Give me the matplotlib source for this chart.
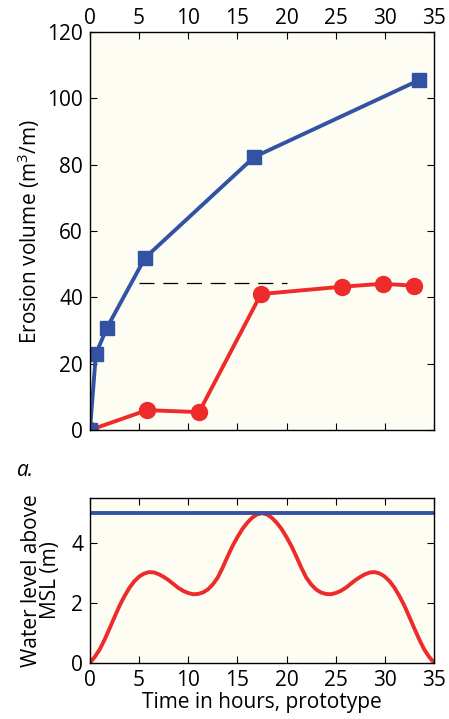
import numpy as np
import matplotlib
matplotlib.use('Agg')
import matplotlib.pyplot as plt

plt.rcParams['font.family'] = ['Open Sans', 'DejaVu Sans']
plt.rcParams['mathtext.fontset'] = 'custom'
plt.rcParams['mathtext.rm'] = 'Open Sans'

# erosion volume, blue squares
t_blue = [0, 0.6, 1.7, 5.6, 16.7, 33.5]
v_blue = [0, 22.9, 30.7, 51.9, 82.3, 105.5]

# erosion volume, red circles
t_red = [0, 5.8, 11.1, 17.4, 25.6, 29.8, 33.0]
v_red = [0, 6.0, 5.4, 41.0, 43.2, 44.1, 43.5]

# dashed reference
t_dash = [5.0, 20.0]
v_dash = [44.2, 44.2]

# water level curves (half-hour steps)
t_wl = np.arange(0, 35.5, 0.5)
wl_red = [0, 0.2, 0.45, 0.78, 1.15, 1.53, 1.9, 2.22, 2.5, 2.72, 2.88, 2.98,
          3.03, 3.02, 2.96, 2.87, 2.76, 2.63, 2.5, 2.4, 2.33, 2.29, 2.3, 2.35,
          2.45, 2.62, 2.85, 3.18, 3.55, 3.9, 4.2, 4.47, 4.68, 4.85, 4.96, 5.0,
          4.96, 4.85, 4.68, 4.47, 4.2, 3.9, 3.55, 3.18, 2.85, 2.62, 2.45, 2.35,
          2.3, 2.29, 2.33, 2.4, 2.5, 2.63, 2.76, 2.87, 2.96, 3.02, 3.03, 2.98,
          2.88, 2.72, 2.5, 2.22, 1.9, 1.53, 1.15, 0.78, 0.45, 0.2, 0]
t_blue_wl = [0, 35]
wl_blue = [5.0, 5.0]

blue = '#3352a3'
red = '#ee2b2b'
bg = '#fdfdf3'
fs = 15

fig = plt.figure(figsize=(4.49, 7.19), dpi=100)

#top panel
ax1 = fig.add_axes([0.2004, 0.4019, 0.7661, 0.5536])
ax1.set_facecolor(bg)
ax1.plot(t_dash, v_dash, color='k', lw=0.9, dashes=(12, 7))
ax1.plot(t_red, v_red, color=red, lw=2.8, marker='o', ms=11.5)
ax1.plot(t_blue, v_blue, color=blue, lw=2.8, marker='s', ms=9.5)
ax1.set_xlim(0, 35)
ax1.set_ylim(0, 120)
ax1.set_xticks(np.arange(0, 36, 5))
ax1.set_yticks(np.arange(0, 121, 20))
ax1.xaxis.tick_top()
ax1.tick_params(direction='in', top=True, bottom=True, left=True, right=True,
                labeltop=True, labelbottom=False, labelsize=fs, length=5, pad=2)
ax1.tick_params(axis='y', pad=5)
ax1.set_ylabel('Erosion volume (m$^3$/m)', fontsize=fs, labelpad=4)

fig.text(0.038, 1 - 470 / 719, 'a.', fontsize=fs, style='italic', va='center')

#bottom panel
ax2 = fig.add_axes([0.2004, 0.0783, 0.7661, 0.2287])
ax2.set_facecolor(bg)
ax2.plot(t_wl, wl_red, color=red, lw=2.8)
ax2.plot(t_blue_wl, wl_blue, color=blue, lw=2.8)
ax2.set_xlim(0, 35)
ax2.set_ylim(0, 5.5)
ax2.set_xticks(np.arange(0, 36, 5))
ax2.set_yticks([0, 2, 4])
ax2.tick_params(direction='in', top=True, bottom=True, left=True, right=True,
                labelsize=fs, length=5, pad=5)
ax2.set_xlabel('Time in hours, prototype', fontsize=fs, labelpad=1)
ax2.set_ylabel('Water level above\nMSL (m)', fontsize=fs, labelpad=7, linespacing=0.9)

for ax in (ax1, ax2):
    for s in ax.spines.values():
        s.set_linewidth(1.0)

plt.savefig('out.png', dpi=100)
